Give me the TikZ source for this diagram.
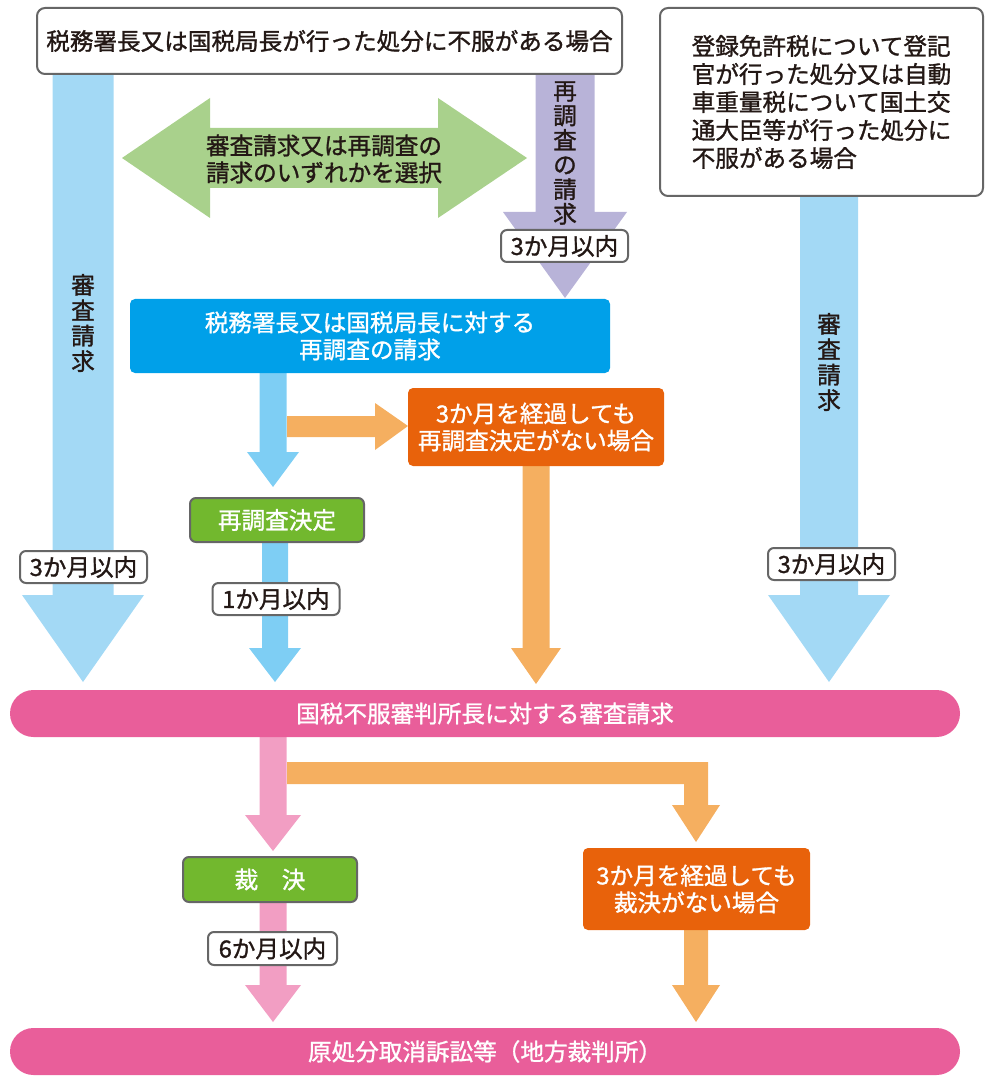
\documentclass[tikz,border=0pt]{standalone}
\usepackage{fontspec}
\setmainfont{Noto Sans CJK JP}[FakeBold=1.2]
\definecolor{lblue}{HTML}{A3D9F5}
\definecolor{mblue}{HTML}{7ECEF4}
\definecolor{bbox}{HTML}{00A0E9}
\definecolor{purp}{HTML}{B8B3D8}
\definecolor{garrow}{HTML}{A9D18C}
\definecolor{olight}{HTML}{F5AF60}
\definecolor{odark}{HTML}{E8620B}
\definecolor{gbox}{HTML}{72B82E}
\definecolor{pbar}{HTML}{E95E9A}
\definecolor{plight}{HTML}{F29EC3}
\definecolor{bord}{HTML}{666666}
\definecolor{txt}{HTML}{231815}
\newcommand\dnarr[7]{% color, cx, halfshaft, ytop, ybase, halfhead, ytip
  \fill[#1] ({#2-#3},#4) -- ({#2+#3},#4) -- ({#2+#3},#5) -- ({#2+#6},#5) -- (#2,#7) -- ({#2-#6},#5) -- ({#2-#3},#5) -- cycle;}
\begin{document}
\begin{tikzpicture}[x=0.5pt,y=-0.5pt,
  font=\fontsize{11.8}{13.5}\selectfont, text=txt,
  wbox/.style={draw=bord, line width=1pt, fill=white, rounded corners=4pt, inner sep=0pt},
  lbl/.style={draw=bord, line width=1pt, fill=white, rounded corners=3pt, inner sep=0pt, minimum width=63.5pt, minimum height=16pt},
  cbox/.style={rounded corners=2.5pt, inner sep=0pt, text=white, align=center},
  gstep/.style={draw=bord, line width=1pt, fill=gbox, rounded corners=3pt, inner sep=0pt, text=white, minimum width=87pt, minimum height=22pt},
  pill/.style={fill=pbar, rounded corners=11.75pt, inner sep=0pt, text=white, minimum width=475pt, minimum height=23.5pt},
  vtext/.style={align=center, font=\fontsize{11.8}{12.7}\selectfont}
]
\useasboundingbox (0,0) rectangle (1000,1085);

% block arrows
\dnarr{lblue}{83}{30.5}{74}{595}{61}{682}
\dnarr{purp}{565}{29.5}{74}{212}{62}{298}
\dnarr{lblue}{829}{29}{196}{595}{61}{682}
\dnarr{mblue}{273}{13.5}{373}{452}{26}{487}
\dnarr{mblue}{275}{13}{542}{648}{26}{682}
\dnarr{olight}{536}{13.5}{466}{648}{25}{684}
\dnarr{plight}{273}{13.5}{737}{815}{28}{851}
\dnarr{plight}{273}{13.5}{902}{985}{28}{1022}
\dnarr{olight}{696}{12}{930}{985}{24}{1022}
\fill[olight] (287,762) -- (708,762) -- (708,805) -- (720,805) -- (696,842) -- (672,805) -- (684,805) -- (684,784) -- (287,784) -- cycle;
\fill[olight] (287,416) -- (375,416) -- (375,403) -- (408,426) -- (375,450) -- (375,437) -- (287,437) -- cycle;
\fill[garrow] (122,158) -- (210,98) -- (210,128) -- (438,128) -- (438,98) -- (527,158) -- (438,218) -- (438,188) -- (210,188) -- (210,218) -- cycle;

% boxes
\node[wbox, minimum width=292.5pt, minimum height=33pt] (top) at (329.5,41) {税務署長又は国税局長が行った処分に不服がある場合};
\node[wbox, minimum width=161.5pt, minimum height=94pt, align=left, font=\fontsize{11.8}{14}\selectfont] (rtop) at (821.5,102)
  {登録免許税について登記\\官が行った処分又は自動\\車重量税について国土交\\通大臣等が行った処分に\\不服がある場合};
\node[align=center] (sel) at (324,159) {審査請求又は再調査の\\請求のいずれかを選択};
\node[cbox, fill=bbox, minimum width=240pt, minimum height=37pt] (rereq) at (370,336) {税務署長又は国税局長に対する\\再調査の請求};
\node[cbox, fill=odark, minimum width=128pt, minimum height=39pt] (nodec1) at (536,427) {3か月を経過しても\\再調査決定がない場合};
\node[gstep] (dec1) at (277,520) {再調査決定};
\node[lbl] (l1) at (276,599) {1か月以内};
\node[lbl] (l3a) at (83.5,567) {3か月以内};
\node[lbl] (l3b) at (564.5,246) {3か月以内};
\node[lbl] (l3c) at (831.5,564) {3か月以内};
\node[vtext] (v1) at (83,323) {審\\査\\請\\求};
\node[vtext, font=\fontsize{11.8}{12.3}\selectfont] (v2) at (565,153) {再\\調\\査\\の\\請\\求};
\node[vtext] (v3) at (829,362) {審\\査\\請\\求};
\node[pill] (trib) at (485,713.5) {国税不服審判所長に対する審査請求};
\node[gstep, minimum height=22.5pt] (dec2) at (270,879.5) {裁　決};
\node[cbox, fill=odark, minimum width=113.5pt, minimum height=41pt] (nodec2) at (696.5,889) {3か月を経過しても\\裁決がない場合};
\node[lbl, minimum width=64.5pt, minimum height=16.5pt] (l6) at (272.5,948.5) {6か月以内};
\node[pill] (court) at (485,1051.5) {原処分取消訴訟等（地方裁判所）};
\end{tikzpicture}
\end{document}
